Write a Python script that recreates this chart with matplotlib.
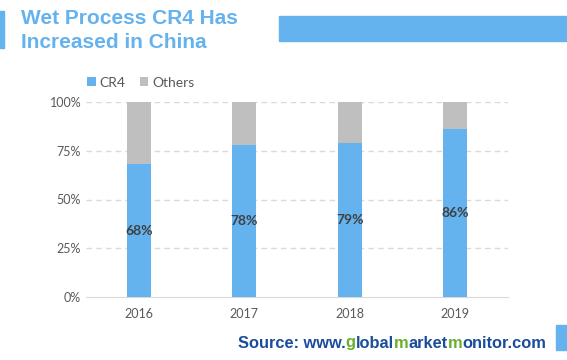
import numpy as np
import matplotlib.pyplot as plt
from matplotlib.patches import Rectangle

years = ['2016', '2017', '2018', '2019']
cr4 = [68, 78, 79, 86]
others = [100 - v for v in cr4]

blue = '#64B2EE'
gray = '#BFBFBF'
txt = '#595959'

plt.rcParams['font.family'] = ['Lato', 'DejaVu Sans']

fig = plt.figure(figsize=(5.67, 3.60), dpi=100)
ax = fig.add_axes([86/567, 1 - 297/360, 422/567, 195/360])

x = np.arange(len(years))
ax.bar(x, cr4, width=0.23, color=blue, label='CR4', zorder=3)
ax.bar(x, others, width=0.23, bottom=cr4, color=gray, label='Others', zorder=3)
for xi, v in zip(x, cr4):
    ax.text(xi, v / 2, '%d%%' % v, ha='center', va='center', fontsize=10,
            fontweight='bold', color='#404040', zorder=4)

ax.set_xlim(-0.5, len(years) - 0.5)
ax.set_ylim(0, 100)
ax.set_yticks([0, 25, 50, 75, 100])
ax.set_yticklabels(['0%', '25%', '50%', '75%', '100%'])
ax.set_xticks(x)
ax.set_xticklabels(years)
ax.tick_params(length=0, colors=txt, labelsize=9)
ax.tick_params(axis='x', pad=8)
for t in [25, 50, 75, 100]:
    ax.axhline(t, color='#D9D9D9', ls=(0, (4, 3)), lw=1, zorder=1)
for s in ['top', 'right', 'left']:
    ax.spines[s].set_visible(False)
ax.spines['bottom'].set_color('#D9D9D9')

ax.legend(loc='lower left', bbox_to_anchor=(-0.01, 1.04), ncol=2, frameon=False,
          fontsize=10, handlelength=0.6, handleheight=0.6, handletextpad=0.3,
          columnspacing=1.0, labelcolor=txt, borderaxespad=0)

# header
fig.text(21/567, 1 - 18/360, 'Wet Process CR4 Has', fontsize=15, fontweight='bold',
         color=blue, family=['Liberation Sans', 'DejaVu Sans'], va='center')
fig.text(21/567, 1 - 43/360, 'Increased in China', fontsize=15, fontweight='bold',
         color=blue, family=['Liberation Sans', 'DejaVu Sans'], va='center')
fig.patches.append(Rectangle((0, 1 - 48/360), 4/567, 37/360, transform=fig.transFigure,
                             color=blue, zorder=0))
fig.patches.append(Rectangle((279/567, 1 - 41/360), 288/567, 25/360,
                             transform=fig.transFigure, color=blue, zorder=0))
fig.patches.append(Rectangle((556/567, 1 - 350/360), 11/567, 25/360,
                             transform=fig.transFigure, color=blue, zorder=0))

# source line
dark = '#1C4C9C'
green = '#6AAF2E'
parts = [('Source: www.', dark), ('g', green), ('lobal', dark), ('m', green),
         ('arket', dark), ('m', green), ('onitor.com', dark)]
fig.canvas.draw()
r = fig.canvas.get_renderer()
xpos = 238 / 567
for s, c in parts:
    t = fig.text(xpos, 1 - 343/360, s, fontsize=11.8, fontweight='bold', color=c,
                 family=['Liberation Sans', 'DejaVu Sans'], va='center')
    bb = t.get_window_extent(renderer=r)
    xpos += bb.width / fig.bbox.width

fig.savefig('out.png', dpi=100)
